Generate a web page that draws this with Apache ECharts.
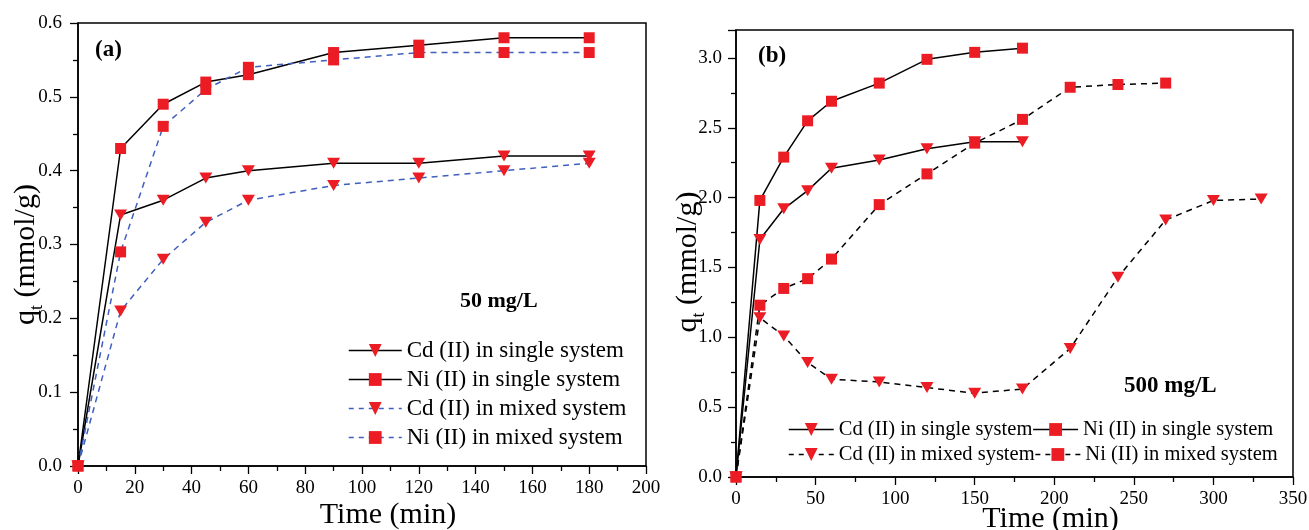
<!DOCTYPE html>
<html>
<head>
<meta charset="utf-8">
<script src="https://cdn.jsdelivr.net/npm/echarts@6/dist/echarts.min.js"></script>
<style>
  html, body { margin: 0; padding: 0; background: #fff; }
  #chart { width: 1309px; height: 530px; }
</style>
</head>
<body>
<div id="chart"></div>
<script>
// Adsorption kinetics, initial concentration 50 mg/L
const timeA      = [0, 15, 30, 45, 60, 90, 120, 150, 180];
const cdSingleA  = [0, 0.34, 0.36, 0.39, 0.40, 0.41, 0.41, 0.42, 0.42];
const niSingleA  = [0, 0.43, 0.49, 0.52, 0.53, 0.56, 0.57, 0.58, 0.58];
const cdMixedA   = [0, 0.21, 0.28, 0.33, 0.36, 0.38, 0.39, 0.40, 0.41];
const niMixedA   = [0, 0.29, 0.46, 0.51, 0.54, 0.55, 0.56, 0.56, 0.56];

// Adsorption kinetics, initial concentration 500 mg/L
const timeSingleB  = [0, 15, 30, 45, 60, 90, 120, 150, 180];
const cdSingleB    = [0, 1.70, 1.92, 2.05, 2.21, 2.27, 2.35, 2.40, 2.40];
const niSingleB    = [0, 1.98, 2.29, 2.55, 2.69, 2.82, 2.99, 3.04, 3.07];
const timeNiMixedB = [0, 15, 30, 45, 60, 90, 120, 150, 180, 210, 240, 270];
const niMixedB     = [0, 1.23, 1.35, 1.42, 1.56, 1.95, 2.17, 2.39, 2.56, 2.79, 2.81, 2.82];
const timeCdMixedB = [0, 15, 30, 45, 60, 90, 120, 150, 180, 210, 240, 270, 300, 330];
const cdMixedB     = [0, 1.14, 1.01, 0.82, 0.70, 0.68, 0.64, 0.60, 0.63, 0.92, 1.43, 1.84, 1.98, 1.99];

const seriesNames = [
  'Cd (II) in single system',
  'Ni (II) in single system',
  'Cd (II) in mixed system',
  'Ni (II) in mixed system'
];

const FONT = '"Liberation Serif", "Times New Roman", serif';
const RED = '#ec1c24';
const BLUE = '#3f5fbf';
const DOWN_TRIANGLE = 'path://M0,0 L12,0 L6,10 Z';

const pairs = (xs, ys) => xs.map((x, i) => [x, ys[i]]);

function makeSeries(name, data, axisIdx, marker, lineColor, dashed) {
  const isTri = marker === 'tri';
  return {
    name: name,
    type: 'line',
    xAxisIndex: axisIdx,
    yAxisIndex: axisIdx,
    data: data,
    symbol: isTri ? DOWN_TRIANGLE : 'rect',
    symbolSize: isTri ? [13, 11] : [11, 11],
    symbolKeepAspect: false,
    showAllSymbol: true,
    lineStyle: { color: lineColor, width: 1.5, type: dashed ? [6, 5] : 'solid' },
    itemStyle: { color: RED, borderWidth: 0 },
    emphasis: { disabled: true },
    z: 3
  };
}

function xAxisCfg(idx, max, interval, namePad, nameGap) {
  return {
    gridIndex: idx, type: 'value', min: 0, max: max, interval: interval,
    name: 'Time (min)', nameLocation: 'middle', nameGap: nameGap, nameMoveOverlap: false,
    nameTextStyle: { fontFamily: FONT, fontSize: 30, color: '#000', padding: [0, 0, 0, namePad] },
    axisLine: { show: true, onZero: false, lineStyle: { color: '#000', width: 1.5 } },
    axisTick: { show: true, inside: false, length: 8, lineStyle: { color: '#000', width: 1.3 } },
    minorTick: { show: true, splitNumber: 2, length: 5, lineStyle: { color: '#000', width: 1.3 } },
    axisLabel: { fontFamily: FONT, fontSize: 19, color: '#000', margin: 13 },
    splitLine: { show: false }
  };
}

function yAxisCfg(idx, max, interval, showMax, nameGap, namePadEnd, labelMargin) {
  return {
    gridIndex: idx, type: 'value', min: 0, max: max, interval: interval,
    name: '{q|q}{t|t}{q| (mmol/g)}', nameLocation: 'middle', nameGap: nameGap, nameRotate: 90,
    nameMoveOverlap: false,
    nameTextStyle: {
      fontFamily: FONT, color: '#000', padding: [0, namePadEnd, 0, 0],
      rich: {
        q: { fontFamily: FONT, fontSize: 30, color: '#000', lineHeight: 40, verticalAlign: 'middle' },
        t: { fontFamily: FONT, fontSize: 18, color: '#000', lineHeight: 40, verticalAlign: 'bottom', padding: [18, 0, 0, 0] }
      }
    },
    axisLine: { show: true, onZero: false, lineStyle: { color: '#000', width: 1.5 } },
    axisTick: { show: true, inside: false, length: 8, lineStyle: { color: '#000', width: 1.3 } },
    minorTick: { show: true, splitNumber: 2, length: 5, lineStyle: { color: '#000', width: 1.3 } },
    axisLabel: {
      fontFamily: FONT, fontSize: 19, color: '#000', margin: labelMargin,
      showMaxLabel: showMax,
      formatter: v => v.toFixed(1)
    },
    splitLine: { show: false }
  };
}

function legendItems(mixedColor) {
  return seriesNames.map((n, i) => ({
    name: n,
    lineStyle: { color: i < 2 ? '#000' : mixedColor, type: i < 2 ? 'solid' : [5, 5], width: 1.5 }
  }));
}

const chart = echarts.init(document.getElementById('chart'), null, { renderer: 'canvas' });

const gridBase = { show: true, borderColor: '#000', borderWidth: 1.5, backgroundColor: 'transparent', containLabel: false, outerBoundsMode: 'none' };

chart.setOption({
  animation: false,
  backgroundColor: '#fff',
  grid: [
    Object.assign({ left: 78, right: 663, top: 23, bottom: 64 }, gridBase),
    Object.assign({ left: 736, right: 16, top: 30, bottom: 53 }, gridBase)
  ],
  xAxis: [
    xAxisCfg(0, 200, 20, 52, 34),
    xAxisCfg(1, 350, 50, 72, 27)
  ],
  yAxis: [
    yAxisCfg(0, 0.6, 0.1, true, 32, 20, 16),
    yAxisCfg(1, 3.2, 0.5, false, 28, 17, 14)
  ],
  legend: [
    {
      data: legendItems(BLUE),
      orient: 'vertical',
      left: 343, top: 334,
      itemWidth: 53, itemHeight: 16, itemGap: 6,
      selectedMode: false,
      textStyle: { fontFamily: FONT, fontSize: 23, color: '#000', lineHeight: 23 }
    },
    {
      data: legendItems('#000'),
      orient: 'horizontal',
      left: 783, top: 412, width: 500,
      itemWidth: 45, itemHeight: 16, itemGap: 0,
      selectedMode: false,
      textStyle: { fontFamily: FONT, fontSize: 20.5, color: '#000', lineHeight: 25 }
    }
  ],
  graphic: [
    { type: 'text', left: 95, top: 39, style: { text: '(a)', font: 'bold 23px ' + FONT, fill: '#000' } },
    { type: 'text', left: 460, top: 290, style: { text: '50 mg/L', font: 'bold 22px ' + FONT, fill: '#000' } },
    { type: 'text', left: 758, top: 45, style: { text: '(b)', font: 'bold 23px ' + FONT, fill: '#000' } },
    { type: 'text', left: 1124, top: 375, style: { text: '500 mg/L', font: 'bold 23px ' + FONT, fill: '#000' } }
  ],
  series: [
    makeSeries(seriesNames[0], pairs(timeA, cdSingleA), 0, 'tri', '#000', false),
    makeSeries(seriesNames[1], pairs(timeA, niSingleA), 0, 'sq', '#000', false),
    makeSeries(seriesNames[2], pairs(timeA, cdMixedA), 0, 'tri', BLUE, true),
    makeSeries(seriesNames[3], pairs(timeA, niMixedA), 0, 'sq', BLUE, true),
    makeSeries(seriesNames[0], pairs(timeSingleB, cdSingleB), 1, 'tri', '#000', false),
    makeSeries(seriesNames[1], pairs(timeSingleB, niSingleB), 1, 'sq', '#000', false),
    makeSeries(seriesNames[2], pairs(timeCdMixedB, cdMixedB), 1, 'tri', '#000', true),
    makeSeries(seriesNames[3], pairs(timeNiMixedB, niMixedB), 1, 'sq', '#000', true)
  ]
});
</script>
</body>
</html>
